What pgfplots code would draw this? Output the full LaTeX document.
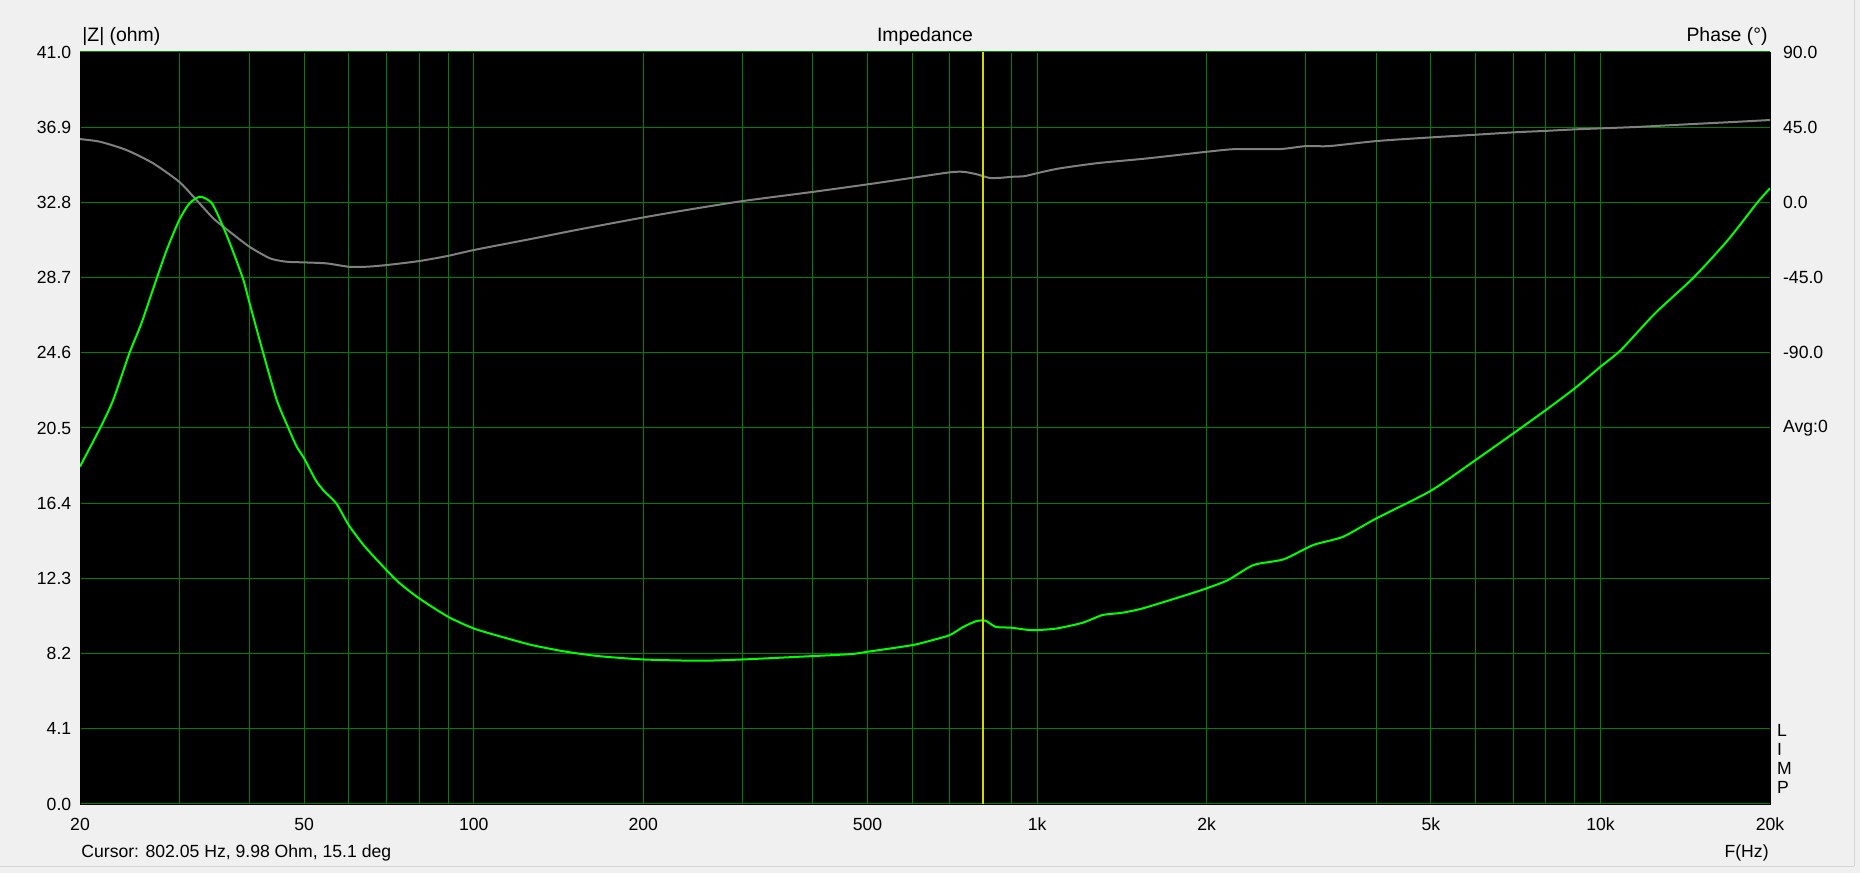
\documentclass[border=0pt]{standalone}
\usepackage{pgfplots}
\pgfplotsset{compat=1.18}
\usepackage{fontspec}
\setmainfont{Liberation Sans}
\definecolor{bgcol}{RGB}{240,240,240}
\definecolor{gridgreen}{RGB}{0,128,0}
\definecolor{zgreen}{RGB}{0,255,0}
\definecolor{phgrey}{RGB}{128,128,128}
\definecolor{cursorcol}{RGB}{215,215,0}
\definecolor{framecol}{RGB}{212,212,212}
\newcommand\lblfont{\fontsize{8.8pt}{10pt}\selectfont}
\newcommand\ttlfont{\fontsize{9.7pt}{11pt}\selectfont}
\begin{document}
\begin{tikzpicture}[font=\lblfont]
\fill[bgcol] (0,0) rectangle (930pt,436.5pt);
\path[use as bounding box] (0,0) rectangle (930pt,436.5pt);
\draw[framecol, line width=0.5pt] (0,3.25pt) -- (927pt,3.25pt);
\draw[framecol, line width=0.5pt] (927pt,3.25pt) -- (927pt,436.5pt);
% main impedance axis: background, grid, left labels
\begin{axis}[
  at={(40pt,34.5pt)}, anchor=south west,
  scale only axis, width=845pt, height=376pt,
  xmode=log, xmin=20, xmax=20000,
  major tick length=0pt, minor tick length=0pt,
  ymin=0, ymax=41,
  axis background/.style={fill=black},
  axis line style={draw=black},
  xtick={20,50,100,200,500,1000,2000,5000,10000,20000},
  xticklabels={20,50,100,200,500,1k,2k,5k,10k,20k},
  minor xtick={30,40,60,70,80,90,300,400,600,700,800,900,3000,4000,6000,7000,8000,9000},
  ytick={0,4.1,8.2,12.3,16.4,20.5,24.6,28.7,32.8,36.9,41},
  yticklabels={0.0,4.1,8.2,12.3,16.4,20.5,24.6,28.7,32.8,36.9,41.0},
  grid=both,
  major grid style={gridgreen, line width=0.5pt},
  minor grid style={gridgreen, line width=0.5pt},
  tick label style={font=\lblfont},
  xticklabel style={anchor=base, inner sep=0pt, yshift=-13.4pt},
  yticklabel style={anchor=east, inner sep=0pt, xshift=-4.2pt},
]
\addplot[draw=none] coordinates {(20,0) (20000,41)};
\end{axis}
% phase axis
\begin{axis}[
  at={(40pt,34.5pt)}, anchor=south west,
  scale only axis, width=845pt, height=376pt,
  xmode=log, xmin=20, xmax=20000,
  major tick length=0pt, minor tick length=0pt,
  ymin=-360, ymax=90,
  hide x axis,
  axis y line*=right,
  y axis line style={draw=none},
  ytick={-135,-90,-45,0,45,90},
  yticklabels={Avg:0,-90.0,-45.0,0.0,45.0,90.0},
  tick label style={font=\lblfont},
  yticklabel style={anchor=west, inner sep=0pt, xshift=6.35pt},
]
\addplot[phgrey, line width=1pt, smooth, tension=0.4] coordinates {
(20,37.9) (21.7,36.3) (24.2,31.3) (27.0,23.3) (30,12.3) (32.0,2.4) (34.5,-9.6)
(36.9,-17.6) (40,-26.6) (43.5,-33.5) (46.5,-35.5) (50,-35.9) (54.8,-36.5)
(60,-38.5) (64.5,-38.5) (70,-37.5) (80,-35.1) (90,-32.0) (100,-28.5)
(127.6,-21.6) (153.7,-16.2) (200,-9.0) (242,-4.2) (300,0.8) (400,6.3)
(500,10.8) (600,14.7) (700,18.0) (740,18.3) (780,16.9) (822,14.7) (860,14.7)
(900,15.3) (950,15.7) (1000,17.5) (1094,20.3) (1280,23.5) (1566,26.3)
(2000,30.3) (2250,31.9) (2694,31.9) (3000,33.7) (3300,33.7) (4000,36.7)
(5000,38.9) (6000,40.5) (7000,41.9) (8000,42.8) (9000,43.7) (10000,44.3)
(11690,45.2) (14200,46.7) (17400,48.2) (20000,49.3)
};
\end{axis}
% impedance curve and cursor
\begin{axis}[
  at={(40pt,34.5pt)}, anchor=south west,
  scale only axis, width=845pt, height=376pt,
  xmode=log, xmin=20, xmax=20000,
  ymin=0, ymax=41,
  hide axis,
]
\addplot[zgreen, line width=1pt, smooth, tension=0.4] coordinates {
(20,18.4) (21.7,20.48) (22.9,22.02) (24.5,24.62) (25.7,26.2) (27.4,28.71)
(28.5,30.2) (30,31.84) (31.3,32.75) (32.7,33.11) (34.3,32.75) (35.9,31.47)
(37.4,30.11) (39.0,28.57) (40,27.3) (42.3,24.57) (44.7,22.02) (46.9,20.48)
(48.5,19.48) (50,18.84) (52.4,17.66) (54.2,17.07) (57,16.39) (60,15.2)
(64,14.05) (70,12.75) (73.9,12.03) (80,11.21) (90,10.21) (100,9.57)
(111,9.15) (127,8.66) (146,8.30) (167,8.06) (200,7.88) (252,7.81) (300,7.88)
(379,8.03) (466,8.17) (500,8.30) (600,8.66) (653,8.94) (700,9.21) (740,9.66)
(780,9.97) (810,9.99) (844,9.66) (900,9.61) (970,9.48) (1000,9.48)
(1084,9.57) (1204,9.88) (1306,10.30) (1418,10.43) (1542,10.67) (1838,11.39)
(2000,11.76) (2182,12.21) (2422,13.03) (2738,13.34) (3092,14.12) (3492,14.57)
(4000,15.57) (5000,17.08) (6000,18.75) (7000,20.2) (8000,21.48) (9000,22.66)
(10000,23.84) (10870,24.75) (12500,26.75) (14640,28.71) (16840,30.75)
(19000,32.8) (20000,33.57)
};
\addplot[cursorcol, line width=0.7pt] coordinates {(802.05,0) (802.05,41)};
\end{axis}
\node[anchor=base west, inner sep=0pt, font=\ttlfont] at (41pt,415.5pt) {|Z| (ohm)};
\node[anchor=base, inner sep=0pt, font=\ttlfont] at (462.5pt,415.5pt) {Impedance};
\node[anchor=base east, inner sep=0pt, font=\ttlfont] at (884pt,415.5pt) {Phase (°)};
\node[anchor=base west, inner sep=0pt] at (40.5pt,7.9pt) {Cursor: 802.05 Hz, 9.98 Ohm, 15.1 deg};
\node[anchor=base east, inner sep=0pt] at (884.5pt,7.9pt) {F(Hz)};
\node[anchor=base west, inner sep=0pt] at (888.3pt,68.15pt) {L};
\node[anchor=base west, inner sep=0pt] at (888.3pt,58.65pt) {I};
\node[anchor=base west, inner sep=0pt] at (888.3pt,49pt) {M};
\node[anchor=base west, inner sep=0pt] at (888.3pt,39.85pt) {P};
\end{tikzpicture}
\end{document}
